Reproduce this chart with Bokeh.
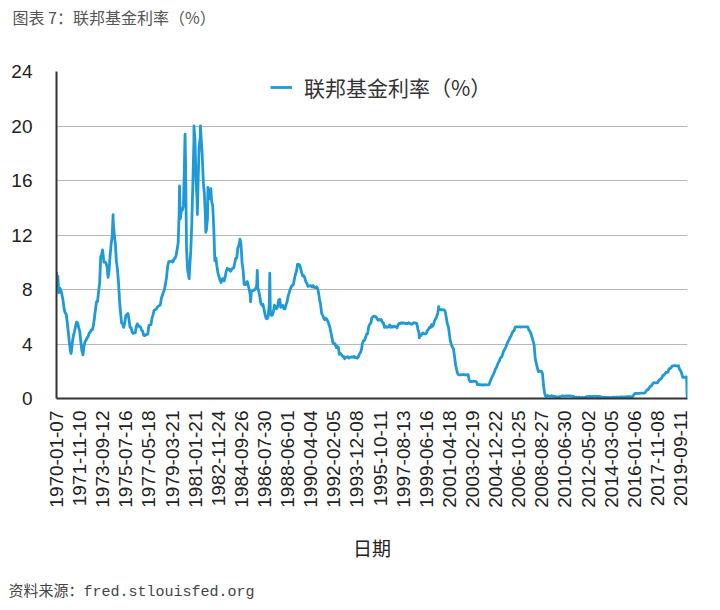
import numpy as np
import pandas as pd
from bokeh.plotting import figure
from bokeh.models import (FixedTicker, Title, Legend, LegendItem, Range1d,
                          ColumnDataSource)
from bokeh.embed import file_html
from bokeh.resources import INLINE

# ---------------- data ----------------
tick_labels = ["1970-01-07", "1971-11-10", "1973-09-12", "1975-07-16", "1977-05-18",
               "1979-03-21", "1981-01-21", "1982-11-24", "1984-09-26", "1986-07-30",
               "1988-06-01", "1990-04-04", "1992-02-05", "1993-12-08", "1995-10-11",
               "1997-08-13", "1999-06-16", "2001-04-18", "2003-02-19", "2004-12-22",
               "2006-10-25", "2008-08-27", "2010-06-30", "2012-05-02", "2014-03-05",
               "2016-01-06", "2017-11-08", "2019-09-11"]
y_ticks = [0, 4, 8, 12, 16, 20, 24]

# monthly levels, Jan..Dec of each year
rates_1970s = [
    8.98, 8.98, 7.76, 8.10, 7.95, 7.61, 7.21, 6.61, 6.29, 6.20, 5.60, 4.90,   # 1970
    4.14, 3.50, 3.40, 4.16, 4.63, 4.91, 5.31, 5.60, 5.55, 5.20, 4.91, 4.14,   # 1971
    3.50, 3.25, 3.83, 4.17, 4.27, 4.46, 4.55, 4.80, 4.87, 5.04, 5.06, 5.33,   # 1972
    5.94, 6.58, 7.09, 7.12, 7.84, 8.49, 10.40, 10.60, 10.78, 10.01, 10.03, 9.95,  # 1973
    9.65, 8.90, 9.35, 10.51, 11.31, 11.93, 12.92, 12.01, 11.34, 10.06, 9.45, 8.53,  # 1974
    7.13, 6.24, 5.54, 5.49, 5.22, 5.55, 6.10, 6.14, 6.24, 5.82, 5.22, 5.20,   # 1975
    4.87, 4.77, 4.84, 4.82, 5.29, 5.48, 5.31, 5.29, 5.25, 5.02, 4.95, 4.65,   # 1976
    4.61, 4.68, 4.69, 4.73, 5.35, 5.39, 5.42, 5.90, 6.14, 6.47, 6.51, 6.56,   # 1977
    6.70, 6.78, 6.79, 6.89, 7.36, 7.60, 7.81, 8.04, 8.45, 8.96, 9.76, 10.03,  # 1978
    10.07, 10.06, 10.09, 10.01, 10.24, 10.29, 10.47, 10.94, 11.43, 13.77, 13.18, 13.78,  # 1979
]
rates_1980s = [
    13.82, 14.13, 17.19, 17.61, 10.98, 9.47, 9.03, 9.61, 10.87, 12.81, 15.85, 18.90,  # 1980
    19.08, 15.93, 14.70, 15.72, 18.52, 19.10, 19.04, 17.82, 15.87, 15.08, 13.31, 12.37,  # 1981
    13.22, 14.78, 14.68, 14.94, 14.45, 14.15, 12.59, 10.12, 10.31, 9.71, 9.20, 8.95,  # 1982
    8.68, 8.51, 8.77, 8.80, 8.63, 8.98, 9.37, 9.56, 9.45, 9.48, 9.34, 9.47,   # 1983
    9.56, 9.59, 9.91, 10.29, 10.32, 11.06, 11.23, 11.64, 11.30, 9.99, 9.43, 8.38,  # 1984
    8.35, 8.50, 8.58, 8.27, 7.97, 7.53, 7.88, 7.90, 7.92, 7.99, 8.05, 8.27,   # 1985
    8.14, 7.86, 7.48, 6.99, 6.85, 6.92, 6.56, 6.17, 5.89, 5.85, 6.04, 6.91,   # 1986
    6.43, 6.10, 6.13, 6.37, 6.85, 6.73, 6.58, 6.73, 7.22, 7.29, 6.69, 6.77,   # 1987
    6.83, 6.58, 6.58, 6.87, 7.09, 7.51, 7.75, 8.01, 8.19, 8.30, 8.35, 8.76,   # 1988
    9.12, 9.36, 9.85, 9.84, 9.81, 9.53, 9.24, 8.99, 9.02, 8.84, 8.55, 8.45,   # 1989
]
rates_1990s = [
    8.23, 8.24, 8.28, 8.26, 8.18, 8.29, 8.15, 8.13, 8.20, 8.11, 7.81, 7.31,   # 1990
    6.91, 6.25, 6.12, 5.91, 5.78, 5.90, 5.82, 5.66, 5.45, 5.21, 4.81, 4.43,   # 1991
    4.03, 4.06, 3.98, 3.73, 3.82, 3.76, 3.25, 3.30, 3.22, 3.10, 3.09, 2.92,   # 1992
    3.02, 3.03, 3.07, 2.96, 3.00, 3.04, 3.06, 3.03, 3.09, 2.99, 3.02, 2.96,   # 1993
    3.05, 3.25, 3.34, 3.56, 4.01, 4.25, 4.26, 4.47, 4.73, 4.76, 5.29, 5.45,   # 1994
    5.53, 5.92, 5.98, 6.05, 6.01, 6.00, 5.85, 5.74, 5.80, 5.76, 5.80, 5.60,   # 1995
    5.56, 5.22, 5.31, 5.22, 5.24, 5.27, 5.40, 5.22, 5.30, 5.24, 5.31, 5.29,   # 1996
    5.25, 5.19, 5.39, 5.51, 5.50, 5.56, 5.52, 5.54, 5.54, 5.50, 5.52, 5.50,   # 1997
    5.56, 5.51, 5.49, 5.45, 5.49, 5.56, 5.54, 5.55, 5.51, 5.07, 4.83, 4.68,   # 1998
    4.63, 4.76, 4.81, 4.74, 4.74, 4.76, 4.99, 5.07, 5.22, 5.20, 5.42, 5.30,   # 1999
]
rates_2000s = [
    5.45, 5.73, 5.85, 6.02, 6.27, 6.53, 6.54, 6.50, 6.52, 6.51, 6.51, 6.40,   # 2000
    5.98, 5.49, 5.31, 4.80, 4.21, 3.97, 3.77, 3.65, 3.07, 2.49, 2.09, 1.82,   # 2001
    1.73, 1.74, 1.73, 1.75, 1.75, 1.75, 1.73, 1.74, 1.75, 1.75, 1.34, 1.24,   # 2002
    1.24, 1.26, 1.25, 1.26, 1.26, 1.22, 1.01, 1.03, 1.01, 1.01, 1.00, 0.98,   # 2003
    1.00, 1.01, 1.00, 1.00, 1.00, 1.03, 1.26, 1.43, 1.61, 1.76, 1.93, 2.16,   # 2004
    2.28, 2.50, 2.63, 2.79, 3.00, 3.04, 3.26, 3.50, 3.62, 3.78, 4.00, 4.16,   # 2005
    4.29, 4.49, 4.59, 4.79, 4.94, 4.99, 5.24, 5.25, 5.25, 5.25, 5.25, 5.24,   # 2006
    5.25, 5.26, 5.26, 5.25, 5.25, 5.25, 5.26, 5.02, 4.94, 4.76, 4.49, 4.24,   # 2007
    3.94, 2.98, 2.61, 2.28, 1.98, 2.00, 2.01, 2.00, 1.81, 0.97, 0.39, 0.16,   # 2008
    0.15, 0.22, 0.18, 0.15, 0.18, 0.21, 0.16, 0.16, 0.15, 0.12, 0.12, 0.12,   # 2009
]
rates_2010s = [
    0.11, 0.13, 0.16, 0.20, 0.20, 0.18, 0.18, 0.19, 0.19, 0.19, 0.19, 0.18,   # 2010
    0.17, 0.16, 0.14, 0.10, 0.09, 0.09, 0.07, 0.10, 0.08, 0.07, 0.08, 0.07,   # 2011
    0.08, 0.10, 0.13, 0.14, 0.16, 0.16, 0.16, 0.13, 0.14, 0.16, 0.16, 0.16,   # 2012
    0.14, 0.15, 0.14, 0.15, 0.11, 0.09, 0.09, 0.08, 0.08, 0.09, 0.08, 0.09,   # 2013
    0.07, 0.07, 0.08, 0.09, 0.09, 0.10, 0.09, 0.09, 0.09, 0.09, 0.09, 0.12,   # 2014
    0.11, 0.11, 0.11, 0.12, 0.12, 0.13, 0.13, 0.14, 0.14, 0.12, 0.12, 0.24,   # 2015
    0.34, 0.38, 0.36, 0.37, 0.37, 0.38, 0.39, 0.40, 0.40, 0.40, 0.41, 0.54,   # 2016
    0.65, 0.66, 0.79, 0.90, 0.91, 1.04, 1.15, 1.16, 1.15, 1.15, 1.16, 1.30,   # 2017
    1.41, 1.42, 1.51, 1.69, 1.70, 1.82, 1.91, 1.91, 1.95, 2.19, 2.20, 2.27,   # 2018
    2.40, 2.40, 2.41, 2.42, 2.39, 2.38, 2.40, 2.13, 2.04, 1.83, 1.55, 1.55,   # 2019
]
rates_2020 = [1.55, 1.58]  # Jan, Feb 2020

# individual weekly readings (spikes and the final drop)
weekly_dates = ["1970-01-07", "1971-03-03", "1972-02-16", "1973-09-05", "1974-07-10",
                "1979-10-24", "1980-04-02", "1980-07-30", "1980-12-17", "1981-03-25",
                "1981-06-24", "1981-11-25", "1982-01-27", "1982-04-21", "1984-08-15",
                "1985-06-19", "1986-01-01", "1986-12-31", "1998-11-25", "2000-06-14",
                "2020-03-04", "2020-03-11", "2020-03-18", "2020-03-25", "2020-04-01"]
weekly_rates = [9.3, 3.3, 3.2, 10.9, 13.5,
                15.6, 19.4, 8.8, 20.0, 13.5,
                20.0, 12.2, 15.5, 15.4, 11.7,
                7.1, 9.4, 9.2, 4.45, 6.75,
                1.59, 1.14, 0.40, 0.12, 0.07]

# ---------------- build the series ----------------
start = pd.Timestamp("1970-01-07")
monthly = rates_1970s + rates_1980s + rates_1990s + rates_2000s + rates_2010s + rates_2020
m_dates = [pd.Timestamp(1970 + i // 12, i % 12 + 1, 15) for i in range(len(monthly))]
all_dates = m_dates + [pd.Timestamp(d) for d in weekly_dates]
all_rates = monthly + weekly_rates
order = np.argsort(np.array(all_dates, dtype="datetime64[ns]"))
dates_sorted = [all_dates[i] for i in order]
rates_sorted = [all_rates[i] for i in order]
# x measured in weeks from the first observation (the weekly category axis)
xw = [(d - start).days / 7.0 for d in dates_sorted]

src = ColumnDataSource(dict(x=xw, y=rates_sorted))

tick_pos = [(pd.Timestamp(t) - start).days // 7 for t in tick_labels]

# ---------------- figure ----------------
p = figure(width=720, height=610, output_backend="svg", toolbar_location=None,
           x_range=Range1d(0, max(xw)), y_range=Range1d(0, 24),
           min_border_left=56, min_border_right=33, min_border_top=0,
           min_border_bottom=212)
p.background_fill_color = "white"
p.border_fill_color = "white"
p.outline_line_color = None

r = p.line("x", "y", source=src, line_color="#1f9ad6", line_width=2.8,
           line_join="round")

# axes
p.xaxis.ticker = FixedTicker(ticks=tick_pos)
p.xaxis.major_label_overrides = {int(t): lab for t, lab in zip(tick_pos, tick_labels)}
p.xaxis.major_label_orientation = np.pi / 2
p.xaxis.major_label_text_font = "Liberation Sans"
p.xaxis.major_label_text_font_size = "19px"
p.xaxis.major_label_text_color = "#222222"
p.xaxis.major_label_standoff = 6
p.xaxis.axis_label = "日期"
p.xaxis.axis_label_text_font = "Noto Sans CJK SC"
p.xaxis.axis_label_text_font_size = "19px"
p.xaxis.axis_label_text_font_style = "normal"
p.xaxis.axis_label_text_color = "#222222"
p.xaxis.axis_label_standoff = 23

p.yaxis.ticker = FixedTicker(ticks=y_ticks)
p.yaxis.major_label_text_font = "Liberation Sans"
p.yaxis.major_label_text_font_size = "19px"
p.yaxis.major_label_text_color = "#222222"
p.yaxis.major_label_standoff = 18

for ax in (p.xaxis, p.yaxis):
    ax.axis_line_color = "#333333"
    ax.axis_line_width = 2
    ax.major_tick_line_color = None
    ax.minor_tick_line_color = None

p.xgrid.visible = False
p.ygrid.grid_line_color = "#b8b8b8"
p.ygrid.grid_line_width = 1.2

# legend
legend = Legend(items=[LegendItem(label="联邦基金利率（%）", renderers=[r])],
                location=(214, 296), orientation="horizontal")
legend.border_line_color = None
legend.background_fill_alpha = 0
legend.label_text_font = "Noto Sans CJK SC"
legend.label_text_font_size = "21px"
legend.label_text_color = "#333333"
legend.glyph_width = 22
legend.label_standoff = 12
legend.padding = 2
legend.margin = 0
p.add_layout(legend)

# ---- caption (top) : spacer panel next to the frame, caption panel outside it
top_gap = Title(text=" ", standoff=18, text_font="Noto Sans CJK SC",
                text_font_size="15px")
p.add_layout(top_gap, "above")
top_title = Title(text="图表 7：联邦基金利率（%）", align="left", offset=-44,
                  standoff=4, text_font="Noto Sans CJK SC", text_font_size="16px",
                  text_font_style="normal", text_color="#555555")
p.add_layout(top_title, "above")

# ---- source note (bottom)
bottom_gap = Title(text=" ", standoff=0, text_font="Liberation Sans",
                   text_font_size="10px")
p.add_layout(bottom_gap, "below")
src_note = Title(text="资料来源：fred.stlouisfed.org", align="left", offset=-48,
                 standoff=10, text_font="'Liberation Mono', 'Noto Sans CJK SC'",
                 text_font_size="15px", text_font_style="normal",
                 text_color="#444444")
p.add_layout(src_note, "below")

open("out.html", "w").write(file_html(p, INLINE))
